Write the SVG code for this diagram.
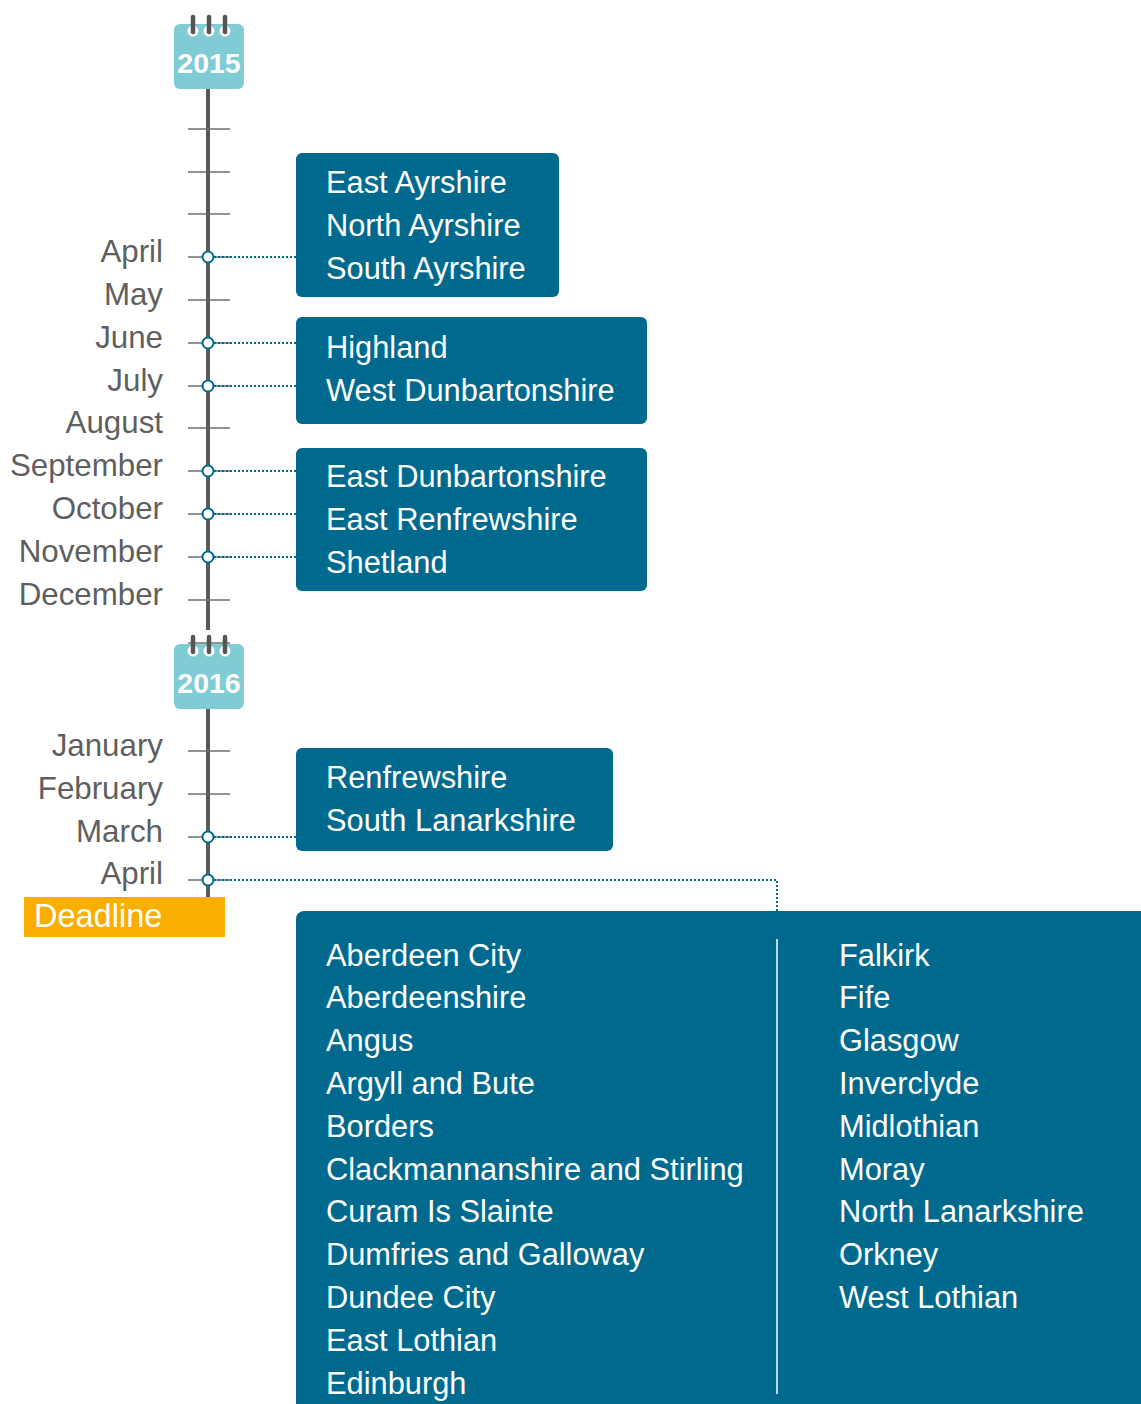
<svg xmlns="http://www.w3.org/2000/svg" width="1141" height="1404" viewBox="0 0 1141 1404">
<style>
.axis{stroke:#5a5a5a;stroke-width:4;fill:none}
.tick{stroke:#6e6e6e;stroke-width:1.5}
.month{font-family:"Liberation Sans",Arial,sans-serif;font-size:31.3px;fill:#5f5f5f;text-anchor:end}
.box{fill:#006a8e}
.bt{font-family:"Liberation Sans",Arial,sans-serif;font-size:30.8px;fill:#ffffff}
.cal{fill:#80ccd5}
.year{font-family:"Liberation Sans",Arial,sans-serif;font-size:28.5px;font-weight:bold;fill:#ffffff;text-anchor:middle}
.ring{stroke:#555;stroke-width:4.5;stroke-linecap:round}
.hole{fill:#ffffff}
.dot{stroke:#006a8e;stroke-width:2;stroke-dasharray:2 2;fill:none}
.node{fill:#ffffff;stroke:#006a8e;stroke-width:2}
</style>
<rect width="1141" height="1404" fill="#ffffff"/>
<g id="timeline">
<line class="axis" x1="208" y1="80" x2="208" y2="630"/>
<line class="axis" x1="208" y1="700" x2="208" y2="900"/>
<g class="tick">
<line x1="188" y1="86" x2="230" y2="86"/>
<line x1="188" y1="129" x2="230" y2="129"/>
<line x1="188" y1="172" x2="230" y2="172"/>
<line x1="188" y1="214" x2="230" y2="214"/>
<line x1="188" y1="257" x2="230" y2="257"/>
<line x1="188" y1="300" x2="230" y2="300"/>
<line x1="188" y1="343" x2="230" y2="343"/>
<line x1="188" y1="386" x2="230" y2="386"/>
<line x1="188" y1="428" x2="230" y2="428"/>
<line x1="188" y1="471" x2="230" y2="471"/>
<line x1="188" y1="514" x2="230" y2="514"/>
<line x1="188" y1="557" x2="230" y2="557"/>
<line x1="188" y1="600" x2="230" y2="600"/>
<line x1="188" y1="643" x2="230" y2="643"/>
<line x1="188" y1="751" x2="230" y2="751"/>
<line x1="188" y1="794" x2="230" y2="794"/>
<line x1="188" y1="837" x2="230" y2="837"/>
<line x1="188" y1="880" x2="230" y2="880"/>
</g>
<text class="month" x="163" y="262">April</text>
<text class="month" x="163" y="305">May</text>
<text class="month" x="163" y="348">June</text>
<text class="month" x="163" y="391">July</text>
<text class="month" x="163" y="433">August</text>
<text class="month" x="163" y="476">September</text>
<text class="month" x="163" y="519">October</text>
<text class="month" x="163" y="562">November</text>
<text class="month" x="163" y="605">December</text>
<text class="month" x="163" y="756">January</text>
<text class="month" x="163" y="799">February</text>
<text class="month" x="163" y="842">March</text>
<text class="month" x="163" y="884">April</text>
</g>
<g id="cal-2015">
<rect class="cal" x="174" y="24" width="70" height="65" rx="6"/>
<circle class="hole" cx="193" cy="31" r="5.5"/>
<circle class="hole" cx="209" cy="31" r="5.5"/>
<circle class="hole" cx="225" cy="31" r="5.5"/>
<line class="ring" x1="193" y1="17" x2="193" y2="32"/>
<line class="ring" x1="209" y1="17" x2="209" y2="32"/>
<line class="ring" x1="225" y1="17" x2="225" y2="32"/>
<text class="year" x="209" y="73">2015</text>
</g>
<g id="cal-2016">
<rect class="cal" x="174" y="644" width="70" height="65" rx="6"/>
<circle class="hole" cx="193" cy="651" r="5.5"/>
<circle class="hole" cx="209" cy="651" r="5.5"/>
<circle class="hole" cx="225" cy="651" r="5.5"/>
<line class="ring" x1="193" y1="637" x2="193" y2="652"/>
<line class="ring" x1="209" y1="637" x2="209" y2="652"/>
<line class="ring" x1="225" y1="637" x2="225" y2="652"/>
<text class="year" x="209" y="693">2016</text>
</g>
<g id="connectors">
<line class="dot" x1="214" y1="257" x2="296" y2="257"/>
<line class="dot" x1="214" y1="343" x2="296" y2="343"/>
<line class="dot" x1="214" y1="386" x2="296" y2="386"/>
<line class="dot" x1="214" y1="471" x2="296" y2="471"/>
<line class="dot" x1="214" y1="514" x2="296" y2="514"/>
<line class="dot" x1="214" y1="557" x2="296" y2="557"/>
<line class="dot" x1="214" y1="837" x2="296" y2="837"/>
<polyline class="dot" points="214,880 777,880 777,911"/>
<circle class="node" cx="208" cy="257" r="5.5"/>
<circle class="node" cx="208" cy="343" r="5.5"/>
<circle class="node" cx="208" cy="386" r="5.5"/>
<circle class="node" cx="208" cy="471" r="5.5"/>
<circle class="node" cx="208" cy="514" r="5.5"/>
<circle class="node" cx="208" cy="557" r="5.5"/>
<circle class="node" cx="208" cy="837" r="5.5"/>
<circle class="node" cx="208" cy="880" r="5.5"/>
</g>
<g id="deadline">
<rect x="24" y="897" width="201" height="40" fill="#f9ae00"/>
<text class="bt" x="34" y="927" style="font-size:32.5px">Deadline</text>
</g>
<g id="box-ayrshire">
<rect class="box" x="296" y="153" width="263" height="144" rx="6"/>
<text class="bt" x="326" y="193">East Ayrshire</text>
<text class="bt" x="326" y="236">North Ayrshire</text>
<text class="bt" x="326" y="279">South Ayrshire</text>
</g>
<g id="box-highland">
<rect class="box" x="296" y="317" width="351" height="107" rx="6"/>
<text class="bt" x="326" y="358">Highland</text>
<text class="bt" x="326" y="401">West Dunbartonshire</text>
</g>
<g id="box-eastdun">
<rect class="box" x="296" y="448" width="351" height="143" rx="6"/>
<text class="bt" x="326" y="487">East Dunbartonshire</text>
<text class="bt" x="326" y="530">East Renfrewshire</text>
<text class="bt" x="326" y="573">Shetland</text>
</g>
<g id="box-renfrew">
<rect class="box" x="296" y="748" width="317" height="103" rx="6"/>
<text class="bt" x="326" y="788">Renfrewshire</text>
<text class="bt" x="326" y="831">South Lanarkshire</text>
</g>
<g id="box-deadline-list">
<rect class="box" x="296" y="911" width="860" height="510" rx="8"/>
<line x1="777" y1="939" x2="777" y2="1394" stroke="#ffffff" stroke-width="1.5"/>
<text class="bt" x="326" y="966">Aberdeen City</text>
<text class="bt" x="326" y="1008">Aberdeenshire</text>
<text class="bt" x="326" y="1051">Angus</text>
<text class="bt" x="326" y="1094">Argyll and Bute</text>
<text class="bt" x="326" y="1137">Borders</text>
<text class="bt" x="326" y="1180">Clackmannanshire and Stirling</text>
<text class="bt" x="326" y="1222">Curam Is Slainte</text>
<text class="bt" x="326" y="1265">Dumfries and Galloway</text>
<text class="bt" x="326" y="1308">Dundee City</text>
<text class="bt" x="326" y="1351">East Lothian</text>
<text class="bt" x="326" y="1394">Edinburgh</text>
<text class="bt" x="839" y="966">Falkirk</text>
<text class="bt" x="839" y="1008">Fife</text>
<text class="bt" x="839" y="1051">Glasgow</text>
<text class="bt" x="839" y="1094">Inverclyde</text>
<text class="bt" x="839" y="1137">Midlothian</text>
<text class="bt" x="839" y="1180">Moray</text>
<text class="bt" x="839" y="1222">North Lanarkshire</text>
<text class="bt" x="839" y="1265">Orkney</text>
<text class="bt" x="839" y="1308">West Lothian</text>
</g>
</svg>
